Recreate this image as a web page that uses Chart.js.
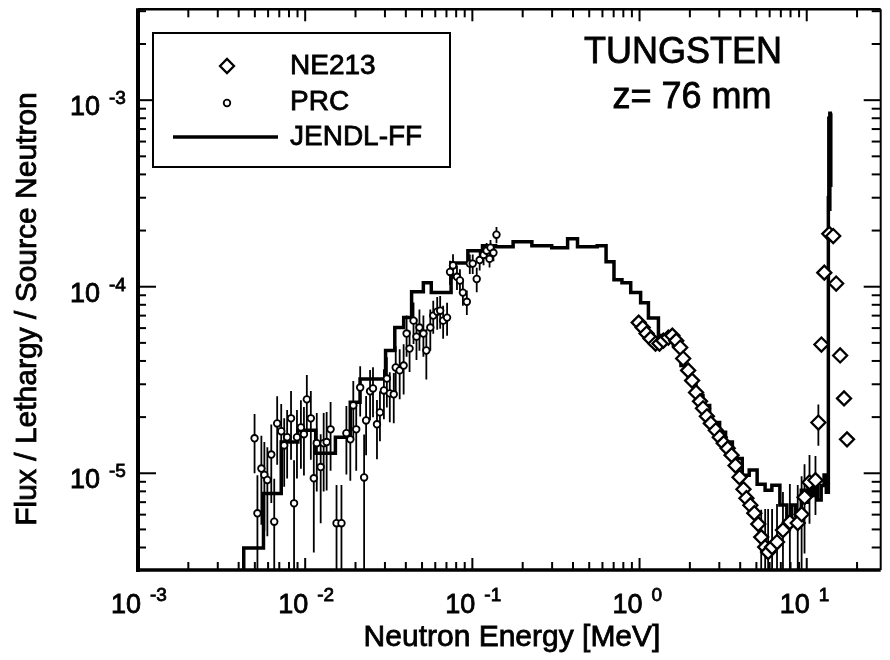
<!DOCTYPE html>
<html>
<head>
<meta charset="utf-8">
<title>Tungsten z = 76 mm</title>
<script src="https://cdn.jsdelivr.net/npm/chart.js@4.4.1/dist/chart.umd.min.js"></script>
<style>
  html, body { margin: 0; padding: 0; background: #fff; }
  canvas { display: block; }
</style>
</head>
<body>
<canvas id="graph" width="890" height="660"></canvas>
<script>
// JENDL-FF group spectrum: left bin edges [MeV] and flux per lethargy (last entry closes the final bin)
const jendlEnergy = [0.00429, 0.00429, 0.00563, 0.00719, 0.00904, 0.01156, 0.01516, 0.01861, 0.02129, 0.03026,
  0.03436, 0.03883, 0.04331, 0.05091, 0.05679, 0.07461, 0.0940, 0.1150, 0.1377, 0.1753,
  0.2270, 0.2982, 0.3713, 0.4255, 0.5580, 0.6306, 0.7032, 0.7850, 0.8855, 1.015,
  1.130, 1.297, 1.593, 1.769, 1.953, 2.175, 2.396, 2.627, 3.013, 3.271,
  3.592, 4.116, 4.529, 5.051, 5.637, 6.187, 6.909, 7.603, 8.133, 8.60,
  9.28, 9.80, 10.2, 10.65, 11.1, 11.6, 12.2, 12.7, 13.1, 13.47,
  13.56, 13.66, 13.75, 13.84, 13.93, 14.02];
const jendlFlux = [1e-6, 3.97e-6, 7.8e-6, 1.47e-5, 1.70e-5, 1.28e-5, 1.56e-5, 2.40e-5, 3.2e-5, 4.55e-5,
  6.04e-5, 6.83e-5, 9.4e-5, 1.05e-4, 9.3e-5, 1.34e-4, 1.56e-4, 1.66e-4, 1.64e-4, 1.74e-4,
  1.66e-4, 1.62e-4, 1.81e-4, 1.64e-4, 1.66e-4, 1.36e-4, 1.09e-4, 1.05e-4, 9.3e-5, 8.2e-5,
  6.8e-5, 5.47e-5, 4.84e-5, 3.78e-5, 3.14e-5, 2.61e-5, 2.31e-5, 1.87e-5, 1.66e-5, 1.47e-5,
  1.20e-5, 9.75e-6, 1.04e-5, 8.73e-6, 8.11e-6, 8.63e-6, 6.75e-6, 5.61e-6, 6.75e-6, 5.9e-6,
  8.1e-6, 7.0e-6, 9.0e-6, 7.6e-6, 9.6e-6, 7.2e-6, 8.6e-6, 9.8e-6, 7.9e-6, 3.0e-4,
  8.0e-4, 2.6e-4, 8.5e-4, 3.5e-4, 8.5e-4, 8.5e-4];

// NE213 unfolded spectrum
const ne213Energy = [0.988, 1.044, 1.102, 1.164, 1.246, 1.316, 1.389, 1.488, 1.571, 1.658,
  1.751, 1.824, 1.953, 2.062, 2.178, 2.300, 2.396, 2.529, 2.670, 2.859,
  3.018, 3.188, 3.366, 3.553, 3.752, 3.963, 4.183, 4.358, 4.601, 4.859,
  5.129, 5.343, 5.642, 5.877, 6.205, 6.642, 7.208, 7.927, 8.836, 9.320,
  9.703, 10.39, 11.28, 11.74, 12.24, 12.74, 13.64, 14.40, 15.00, 15.84,
  16.72, 17.42];
const ne213Flux = [6.42e-5, 6.04e-5, 5.61e-5, 5.27e-5, 4.96e-5, 4.96e-5, 5.14e-5, 5.34e-5, 5.47e-5, 5.14e-5,
  4.72e-5, 4.12e-5, 3.56e-5, 3.14e-5, 2.71e-5, 2.43e-5, 2.23e-5, 2.02e-5, 1.85e-5, 1.70e-5,
  1.56e-5, 1.45e-5, 1.36e-5, 1.25e-5, 1.10e-5, 9.52e-6, 8.21e-6, 7.35e-6, 6.74e-6, 6.11e-6,
  5.34e-6, 4.55e-6, 4.02e-6, 3.78e-6, 4.02e-6, 4.28e-6, 4.96e-6, 5.47e-6, 5.41e-6, 6.03e-6,
  7.44e-6, 8.95e-6, 9.18e-6, 1.87e-5, 4.90e-5, 1.19e-4, 1.92e-4, 1.87e-4, 1.04e-4, 4.28e-5,
  2.52e-5, 1.52e-5];
// relative errors (0 = bar hidden by the marker)
const ne213Err = [0, 0, 0, 0, 0, 0, 0, 0, 0, 0,
  0, 0, 0, 0, 0, 0, 0, 0, 0, 0,
  0, 0, 0, 0, 0, 0, 0, 0, 0, 0,
  0, 0.4, 0.6, 0.7, 0.6, 0.6, 0.6, 0.6, 0.6, 0.6,
  0.5, 0.4, 0.35, 0.25, 0, 0, 0, 0, 0, 0,
  0, 0];

// proton recoil counter points
const prcEnergy = [0.00498, 0.00518, 0.00547, 0.00570, 0.00594, 0.00627, 0.00653, 0.00680, 0.00719, 0.00749,
  0.00780, 0.00823, 0.00858, 0.00893, 0.00943, 0.00983, 0.01023, 0.01081, 0.01126, 0.01173,
  0.01238, 0.01290, 0.01344, 0.01419, 0.01540, 0.01648, 0.01764, 0.01862, 0.01940, 0.02020,
  0.02133, 0.02252, 0.02314, 0.02444, 0.02545, 0.02688, 0.02800, 0.02957, 0.03080, 0.03207,
  0.03387, 0.03480, 0.03675, 0.03881, 0.04042, 0.04211, 0.04447, 0.04632, 0.04824, 0.05095,
  0.05305, 0.05603, 0.05835, 0.06162, 0.06419, 0.06687, 0.07059, 0.07353, 0.07660, 0.08088,
  0.08427, 0.08777, 0.09267, 0.09654, 0.1005, 0.1062, 0.1106, 0.1167, 0.1217, 0.1267,
  0.1284, 0.1337, 0.1394];
const prcFlux = [1.54e-5, 6.1e-6, 1.06e-5, 9.8e-6, 9.2e-6, 1.26e-5, 5.5e-6, 1.85e-5, 1.68e-5, 1.41e-5,
  1.56e-5, 1.97e-5, 6.9e-6, 1.56e-5, 1.76e-5, 1.62e-5, 2.49e-5, 1.97e-5, 9.4e-6, 1.45e-5,
  1.08e-5, 1.45e-5, 1.47e-5, 1.72e-5, 5.4e-6, 5.4e-6, 1.64e-5, 1.52e-5, 2.31e-5, 1.72e-5,
  2.88e-5, 9.5e-6, 1.92e-5, 2.75e-5, 2.85e-5, 1.83e-5, 2.12e-5, 2.78e-5, 3.22e-5, 2.68e-5,
  2.65e-5, 3.69e-5, 3.56e-5, 3.78e-5, 5.61e-5, 4.66e-5, 6.58e-5, 5.40e-5, 6.04e-5, 5.61e-5,
  4.55e-5, 6.04e-5, 7.0e-5, 7.35e-5, 7.44e-5, 6.58e-5, 6.83e-5, 1.20e-4, 1.30e-4, 1.13e-4,
  1.08e-4, 9.3e-5, 8.3e-5, 1.33e-4, 1.33e-4, 1.10e-4, 1.39e-4, 1.48e-4, 1.56e-4, 1.41e-4,
  1.62e-4, 1.52e-4, 1.90e-4];
const prcErr = [0.35, 0.6, 0.5, 0.5, 0.5, 0.45, 0.7, 0.4, 0.4, 0.4,
  0.4, 0.4, 0.7, 0.4, 0.4, 0.4, 0.35, 0.4, 0.6, 0.45,
  0.5, 0.45, 0.45, 0.4, 0.6, 0.6, 0.4, 0.4, 0.35, 0.4,
  0.3, 0.7, 0.35, 0.3, 0.3, 0.35, 0.3, 0.3, 0.3, 0.3,
  0.3, 0.3, 0.3, 0.3, 0.25, 0.25, 0.25, 0.25, 0.25, 0.25,
  0.3, 0.25, 0.2, 0.2, 0.2, 0.2, 0.2, 0.15, 0.15, 0.15,
  0.15, 0.15, 0.15, 0.12, 0.12, 0.15, 0.12, 0.12, 0.1, 0.1,
  0.1, 0.1, 0.1];

// labelled decades
const xTickValues = [1e-3, 1e-2, 1e-1, 1, 10];
const xTickExp = ['-3', '-2', '-1', '0', '1'];
const yTickValues = [1e-5, 1e-4, 1e-3];
const yTickExp = ['-5', '-4', '-3'];

const FONT = '"Liberation Sans", Arial, Helvetica, sans-serif';

function points(xs, ys) {
  return xs.map((x, i) => ({ x: x, y: ys[i] }));
}

// vertical bars as one broken line: low, high, gap
function errorBars(xs, ys, rel) {
  const out = [];
  xs.forEach((x, i) => {
    if (!rel[i]) return;
    out.push({ x: x, y: ys[i] * (1 - rel[i]) }, { x: x, y: ys[i] * (1 + rel[i]) }, { x: x, y: null });
  });
  return out;
}

function line(ctx, x1, y1, x2, y2) {
  ctx.beginPath();
  ctx.moveTo(x1, y1);
  ctx.lineTo(x2, y2);
  ctx.stroke();
}

// filled text with a thin outline so it reads as heavy as the printed labels
function heavyText(ctx, text, x, y) {
  ctx.fillText(text, x, y);
  ctx.strokeText(text, x, y);
}

// frame with inward ticks, tick labels, titles, legend and the sample label
const decorations = {
  id: 'decorations',
  afterDraw(chart) {
    const ctx = chart.ctx;
    const a = chart.chartArea;
    const xs = chart.scales.x;
    const ys = chart.scales.y;
    ctx.save();
    ctx.strokeStyle = '#000';
    ctx.fillStyle = '#000';
    ctx.lineCap = 'butt';

    // axes box
    ctx.lineWidth = 4;
    line(ctx, a.left, a.top - 1, a.left, a.bottom + 2);
    ctx.lineWidth = 3.5;
    line(ctx, a.left - 2, a.bottom, a.right, a.bottom);
    ctx.lineWidth = 2.5;
    line(ctx, a.left, a.top, a.right, a.top);
    ctx.lineWidth = 2;
    line(ctx, a.right, a.top, a.right, a.bottom);

    // x ticks (bottom and top)
    ctx.lineWidth = 2;
    for (let e = -3; e <= 1; e++) {
      for (let m = 1; m < 10; m++) {
        const v = m * Math.pow(10, e);
        if (v < xs.min || v > xs.max) continue;
        const px = xs.getPixelForValue(v);
        const len = m === 1 ? 12 : 8;
        line(ctx, px, a.bottom, px, a.bottom - len);
        line(ctx, px, a.top, px, a.top + len);
      }
    }
    // y ticks (left and right)
    for (let e = -6; e <= -3; e++) {
      for (let m = 1; m < 10; m++) {
        const v = m * Math.pow(10, e);
        if (v < ys.min || v > ys.max) continue;
        const py = ys.getPixelForValue(v);
        line(ctx, a.left, py, a.left + (m === 1 ? 18 : 8), py);
        line(ctx, a.right, py, a.right - (m === 1 ? 17 : 9), py);
      }
    }

    // tick labels: 10 with raised exponent
    ctx.textBaseline = 'alphabetic';
    ctx.lineWidth = 0.8;
    xTickValues.forEach((v, i) => {
      const px = xs.getPixelForValue(v);
      ctx.font = '27px ' + FONT;
      ctx.textAlign = 'right';
      heavyText(ctx, '10', px + 3, 613);
      ctx.font = '19px ' + FONT;
      ctx.textAlign = 'left';
      heavyText(ctx, xTickExp[i], px + 12, 601);
    });
    yTickValues.forEach((v, i) => {
      const py = ys.getPixelForValue(v);
      ctx.font = '27px ' + FONT;
      ctx.textAlign = 'right';
      heavyText(ctx, '10', 100, py + 15);
      ctx.font = '19px ' + FONT;
      ctx.textAlign = 'left';
      heavyText(ctx, yTickExp[i], 109, py + 4);
    });

    // axis titles
    ctx.font = '30px ' + FONT;
    ctx.textAlign = 'center';
    heavyText(ctx, 'Neutron Energy [MeV]', 512, 646);
    ctx.save();
    ctx.translate(36, 309);
    ctx.rotate(-Math.PI / 2);
    heavyText(ctx, 'Flux / Lethargy / Source Neutron', 0, 0);
    ctx.restore();

    // sample label
    ctx.font = '36px ' + FONT;
    heavyText(ctx, 'TUNGSTEN', 683, 63);
    heavyText(ctx, 'z= 76 mm', 692, 108);

    // legend
    ctx.fillStyle = '#fff';
    ctx.fillRect(153, 33, 297, 134);
    ctx.lineWidth = 2;
    ctx.strokeRect(153, 33, 297, 134);
    const ds = chart.data.datasets;
    ctx.fillStyle = '#fff';
    ctx.lineWidth = 2.3;
    Chart.helpers.drawPoint(ctx, { pointStyle: 'rectRot', radius: 7, borderWidth: 2.3 }, 227, 66);
    ctx.lineWidth = 1.8;
    Chart.helpers.drawPoint(ctx, { pointStyle: 'circle', radius: 3.3, borderWidth: 1.8 }, 227, 103);
    ctx.lineWidth = 3.5;
    line(ctx, 173, 137, 278, 137);
    ctx.fillStyle = '#000';
    ctx.lineWidth = 0.8;
    ctx.font = '28px ' + FONT;
    ctx.textAlign = 'left';
    heavyText(ctx, ds[0].label, 290, 74);
    heavyText(ctx, ds[1].label, 290, 110);
    heavyText(ctx, ds[3].label, 290, 145);
    ctx.restore();
  }
};

new Chart(document.getElementById('graph'), {
  type: 'line',
  data: {
    datasets: [
      {
        label: 'NE213',
        data: points(ne213Energy, ne213Flux),
        showLine: false,
        pointStyle: 'rectRot',
        pointRadius: 7,
        borderWidth: 2.3,
        borderColor: '#000',
        backgroundColor: '#fff',
        order: 0
      },
      {
        label: 'PRC',
        data: points(prcEnergy, prcFlux),
        showLine: false,
        pointStyle: 'circle',
        pointRadius: 3.3,
        borderWidth: 1.8,
        borderColor: '#000',
        backgroundColor: '#fff',
        order: 1
      },
      {
        label: 'errors',
        data: errorBars(prcEnergy, prcFlux, prcErr).concat(errorBars(ne213Energy, ne213Flux, ne213Err)),
        borderColor: '#000',
        borderWidth: 1.8,
        pointRadius: 0,
        spanGaps: false,
        order: 2
      },
      {
        label: 'JENDL-FF',
        data: points(jendlEnergy, jendlFlux),
        stepped: 'before',
        borderColor: '#000',
        borderWidth: 3.5,
        pointRadius: 0,
        order: 3
      }
    ]
  },
  options: {
    responsive: false,
    animation: false,
    events: [],
    layout: { padding: { left: 138, top: 8, right: 0, bottom: 90 } },
    scales: {
      x: { type: 'logarithmic', min: 1e-3, max: 27.7, display: false },
      y: { type: 'logarithmic', min: 3.03e-6, max: 3.07e-3, display: false }
    },
    plugins: {
      legend: { display: false },
      tooltip: { enabled: false }
    }
  },
  plugins: [decorations]
});
</script>
</body>
</html>
